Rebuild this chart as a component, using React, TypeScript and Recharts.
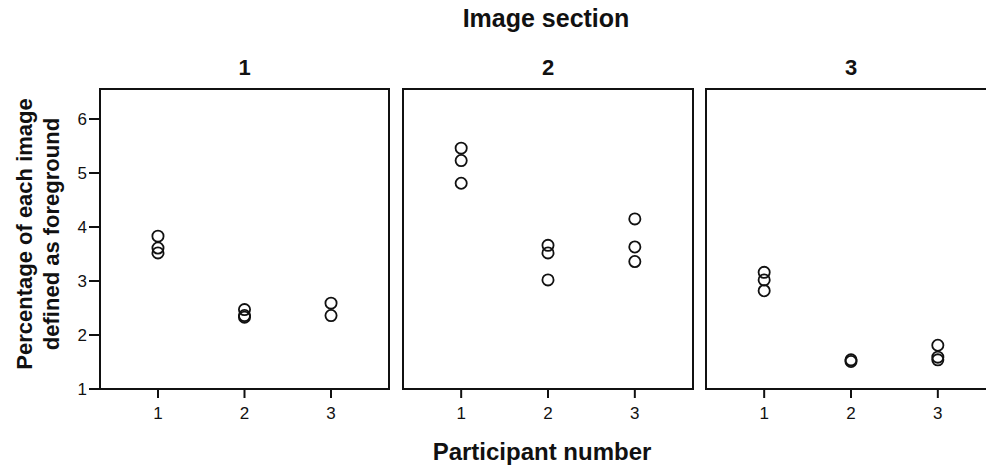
import React from "react";
import { ScatterChart, Scatter, XAxis, YAxis, ReferenceArea } from "recharts";

const participants = [1, 2, 3];
const yTicks = [1, 2, 3, 4, 5, 6];
const sectionLabels = ["1", "2", "3"];

// values per participant (1, 2, 3) for each image section
const section1P1 = [3.83, 3.61, 3.52];
const section1P2 = [2.47, 2.36, 2.33];
const section1P3 = [2.59, 2.36];
const section2P1 = [5.46, 5.23, 4.81];
const section2P2 = [3.66, 3.52, 3.02];
const section2P3 = [4.15, 3.63, 3.36];
const section3P1 = [3.16, 3.02, 2.82];
const section3P2 = [1.54, 1.51];
const section3P3 = [1.81, 1.59, 1.54];

const sections = [
  [section1P1, section1P2, section1P3],
  [section2P1, section2P2, section2P3],
  [section3P1, section3P2, section3P3],
];

const toPoints = (groups: number[][]) =>
  groups.flatMap((vals, i) => vals.map((v) => ({ x: participants[i], y: v })));

const FONT = "'Liberation Sans', Arial, Helvetica, sans-serif";
const X_DOMAIN: [number, number] = [0.33, 3.67];
const Y_DOMAIN: [number, number] = [1, 6.555];

const Ring = (props: any) => {
  const { cx, cy } = props;
  if (cx == null || cy == null) return null;
  return <circle cx={cx} cy={cy} r={5.6} fill="none" stroke="#111" strokeWidth={1.8} />;
};

const TickText = (props: any) => {
  const { x, y, payload, orientation } = props;
  if (orientation === "left") {
    return (
      <text x={x} y={y} dy={6} textAnchor="end" fontSize={17} fontFamily={FONT} fill="#111">
        {payload.value}
      </text>
    );
  }
  return (
    <text x={x} y={y} dy={12} textAnchor="middle" fontSize={17} fontFamily={FONT} fill="#111">
      {payload.value}
    </text>
  );
};

const panels = [
  { left: 0, width: 395, marginLeft: 0, marginRight: 6, showY: true },
  { left: 393, width: 310, marginLeft: 10, marginRight: 10, showY: false },
  { left: 696, width: 310, marginLeft: 10, marginRight: 10, showY: false },
];

const panelCenters = [244.5, 548, 851];

export default function App() {
  return (
    <div
      style={{
        position: "absolute",
        left: 0,
        top: 0,
        width: 986,
        height: 468,
        overflow: "hidden",
        background: "#fff",
        fontFamily: FONT,
      }}
    >
      {panels.map((p, idx) => (
        <div key={idx} style={{ position: "absolute", left: p.left, top: 0 }}>
          <ScatterChart
            width={p.width}
            height={468}
            margin={{ top: 89, right: p.marginRight, left: p.marginLeft, bottom: 49 }}
          >
            <XAxis
              type="number"
              dataKey="x"
              domain={X_DOMAIN}
              ticks={participants}
              allowDataOverflow
              axisLine={false}
              stroke="#111"
              tickLine={{ stroke: "#111", strokeWidth: 2 }}
              tickSize={9}
              tickMargin={9}
              height={30}
              tick={<TickText orientation="bottom" />}
            />
            {p.showY ? (
              <YAxis
                type="number"
                dataKey="y"
                domain={Y_DOMAIN}
                ticks={yTicks}
                allowDataOverflow
                axisLine={false}
                stroke="#111"
                tickLine={{ stroke: "#111", strokeWidth: 2 }}
                tickSize={11}
                tickMargin={2}
                width={100}
                tick={<TickText orientation="left" />}
              />
            ) : (
              <YAxis type="number" dataKey="y" domain={Y_DOMAIN} allowDataOverflow hide />
            )}
            <ReferenceArea
              x1={X_DOMAIN[0]}
              x2={X_DOMAIN[1]}
              y1={Y_DOMAIN[0]}
              y2={Y_DOMAIN[1]}
              fill="none"
              fillOpacity={0}
              stroke="#111"
              strokeWidth={2}
              ifOverflow="visible"
            />
            <Scatter
              data={toPoints(sections[idx])}
              shape={<Ring />}
              isAnimationActive={false}
            />
          </ScatterChart>
        </div>
      ))}
      <svg
        width={986}
        height={468}
        style={{ position: "absolute", left: 0, top: 0, pointerEvents: "none" }}
      >
        <text x={546} y={27} textAnchor="middle" fontSize={25} fontWeight="bold" fontFamily={FONT} fill="#111">
          Image section
        </text>
        {sectionLabels.map((s, i) => (
          <text key={s} x={panelCenters[i]} y={75} textAnchor="middle" fontSize={22} fontWeight="bold" fontFamily={FONT} fill="#111">
            {s}
          </text>
        ))}
        <text x={542} y={460} textAnchor="middle" fontSize={24} fontWeight="bold" fontFamily={FONT} fill="#111">
          Participant number
        </text>
        <g transform="translate(32,234) rotate(-90)">
          <text x={0} y={0} textAnchor="middle" fontSize={22} fontWeight="bold" fontFamily={FONT} fill="#111">
            Percentage of each image
          </text>
          <text x={0} y={27} textAnchor="middle" fontSize={22} fontWeight="bold" fontFamily={FONT} fill="#111">
            defined as foreground
          </text>
        </g>
      </svg>
    </div>
  );
}
